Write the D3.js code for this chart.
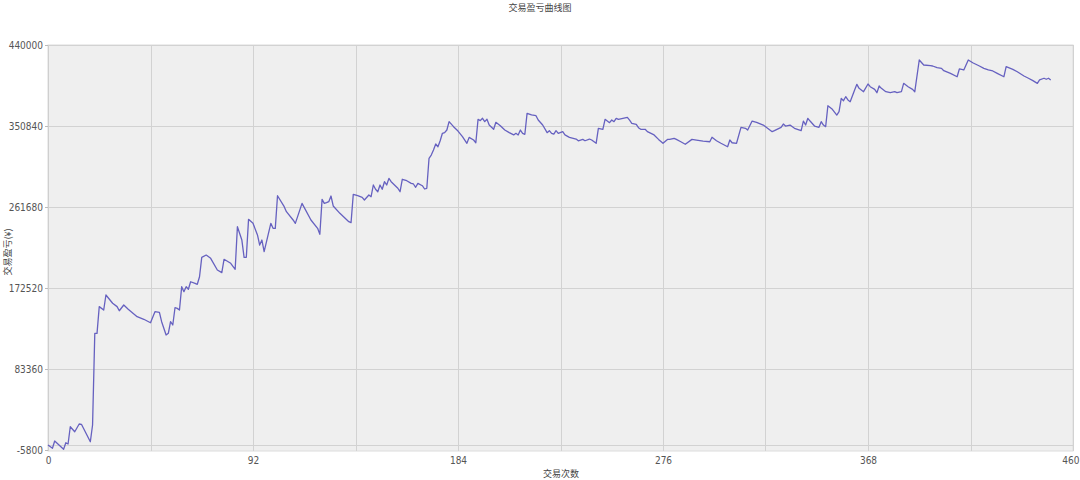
<!DOCTYPE html>
<html>
<head>
<meta charset="utf-8">
<script src="https://cdn.jsdelivr.net/npm/d3@7"></script>
<style>
  html, body { margin: 0; padding: 0; background: #ffffff; }
  svg { display: block; }
  .tick-label { font-family: "Liberation Sans Narrow", "DejaVu Sans Condensed", "Liberation Sans", sans-serif; font-size: 10px; fill: #555; }
  .cjk { font-family: "Noto Sans CJK SC", sans-serif; font-size: 9px; fill: #444; }
</style>
</head>
<body>
<svg id="chart" width="1080" height="480"></svg>
<script>
// ---- data ----
const title = "交易盈亏曲线图";
const xTitle = "交易次数";
const yTitle = "交易盈亏(¥)";
const xTicks = [0, 92, 184, 276, 368, 460];
const xGrid = [0, 46, 92, 138, 184, 230, 276, 322, 368, 414, 460];
const yTicks = [-5800, 83360, 172520, 261680, 350840, 440000];
const yGrid = [0, 83360, 172520, 261680, 350840, 440000];
const trades = [0,2,3,7,8,9,10,12,14,15,19,20,21,22,23,25,26,29,31,32,34,36,40,43,46,48,50,51,53,54,55,56,57,58,59,60,61,62,63,64,66,67,68,69,71,73,76,78,79,82,84,85,87,88,89,90,92,94,95,96,97,100,101,102,103,106,107,110,111,114,118,121,122,123,124,125,126,127,128,131,135,136,137,139,141,142,144,145,146,147,148,149,150,151,152,153,154,157,158,159,161,163,164,165,166,168,169,170,171,172,173,174,175,176,177,178,179,180,182,184,186,188,189,191,192,193,194,195,196,197,198,200,201,203,205,207,209,210,211,212,213,214,215,217,219,220,222,224,225,226,227,228,229,231,232,234,237,238,240,241,243,244,246,247,249,250,252,253,254,255,256,258,260,261,262,264,265,266,268,269,272,274,276,278,279,281,282,284,286,289,291,294,297,298,300,302,305,306,307,309,311,313,314,316,318,321,325,326,329,330,331,333,335,338,339,340,341,342,344,346,347,348,349,350,352,354,355,356,357,358,359,360,362,363,364,366,368,369,371,372,373,374,376,378,380,381,383,384,386,388,389,391,393,396,397,399,401,402,405,408,409,411,413,415,418,420,422,424,426,429,430,433,435,438,440,442,444,445,447,448,449,450];
const profit = [-300,-3900,4100,-5000,2200,800,19800,14300,22800,22500,3300,21700,122600,122600,152000,148300,164800,155700,152000,147500,153800,149100,140900,138100,134300,146500,145800,135400,120800,122600,135400,131800,150800,150100,148300,174000,168500,174000,171100,179400,177700,176600,184900,206300,208800,205200,192300,189400,204100,199700,193100,240000,225300,206300,206300,248100,243700,230900,219800,225300,212500,243700,238200,238200,274100,262000,256500,247400,243700,265700,247400,238200,231600,270100,265700,266400,267500,273800,262800,254700,245500,244400,275600,274100,272300,269400,274900,273000,285900,281200,278500,285900,281200,289500,285900,293200,289500,282300,278500,292200,290600,287700,287000,283400,287700,285100,281500,282300,315300,318900,324400,331000,328000,334600,342800,343500,346400,355600,350100,345300,339100,331800,338300,335400,332400,358200,356700,359300,355600,358200,351900,347200,354900,351200,346400,343500,341000,342800,341000,346400,342800,341700,364800,363000,362200,357400,351900,343500,345700,342800,342000,345700,342800,344600,341000,338400,336500,334600,336100,334600,336500,335400,331800,348300,347200,358200,354500,357400,355600,359300,358200,359300,360400,357400,353800,352700,349000,347200,347200,344600,341000,336100,331800,336100,336100,337200,336100,333500,330700,336100,335400,334300,333500,338400,334600,331800,328000,335400,332400,331800,349400,348300,346400,356300,354900,351900,344600,345700,349400,353000,350800,351900,348300,345700,356300,351900,359300,356300,350800,349400,355600,351900,350100,373100,369200,362900,366600,381300,378700,383100,379500,377600,390500,396700,392300,388600,397100,394100,391200,387500,394900,392300,388600,387500,388600,387500,388600,397800,394100,391200,388600,423500,418000,417200,416900,415000,414300,411700,408800,405100,413600,412500,423500,420500,416900,414300,412500,411400,408800,405100,416100,413200,410600,405900,403400,400800,397800,401500,403400,402300,403400,401500];

// ---- chart ----
const svg = d3.select("#chart");
const pL = 48, pR = 1073, pT = 45, pB = 450;
const x = d3.scaleLinear().domain([0, 460]).range([pL, pR]);
const y = d3.scaleLinear().domain([-5800, 440000]).range([pB, pT]);

// plot background
svg.append("rect")
  .attr("x", pL).attr("y", pT)
  .attr("width", pR - pL).attr("height", pB - pT + 1)
  .attr("fill", "#efefef").attr("stroke", "#dcdcdc").attr("stroke-width", 1);

// grid
svg.append("g").selectAll("line").data(xGrid).join("line")
  .attr("x1", d => Math.round(x(d)) + 0.5).attr("x2", d => Math.round(x(d)) + 0.5)
  .attr("y1", pT).attr("y2", pB + 1)
  .attr("stroke", "#d2d2d2").attr("stroke-width", 1);
svg.append("g").selectAll("line").data(yGrid).join("line")
  .attr("x1", pL).attr("x2", pR)
  .attr("y1", d => Math.round(y(d)) + 0.5).attr("y2", d => Math.round(y(d)) + 0.5)
  .attr("stroke", "#d2d2d2").attr("stroke-width", 1);

// axes
const yAxis = d3.axisLeft(y).tickValues(yTicks).tickSize(3).tickPadding(2).tickFormat(d => String(d));
const gy = svg.append("g").attr("transform", `translate(${pL},0)`).call(yAxis);
gy.select(".domain").attr("stroke", "#cfcfcf");
gy.selectAll(".tick line").attr("stroke", "#bbb");
gy.selectAll("text").attr("class", "tick-label").attr("fill", "#555");

const xAxis = d3.axisBottom(x).tickValues(xTicks).tickSize(0).tickPadding(6).tickFormat(d => String(d));
const gx = svg.append("g").attr("transform", `translate(0,${pB + 1})`).call(xAxis);
gx.select(".domain").remove();
gx.selectAll("text").attr("class", "tick-label").attr("fill", "#555")
  .filter(d => d === 460).attr("text-anchor", "end").attr("dx", "6");

// line
const n = Math.min(trades.length, profit.length);
const pts = trades.slice(0, n).map((t, i) => [t, profit[i]]);
svg.append("path")
  .datum(pts)
  .attr("fill", "none")
  .attr("stroke", "#6661c0")
  .attr("stroke-width", 1.3)
  .attr("stroke-linejoin", "round")
  .attr("d", d3.line().x(d => x(d[0])).y(d => y(d[1])));

// titles
svg.append("text").attr("class", "cjk").attr("x", 540).attr("y", 11)
  .attr("text-anchor", "middle").text(title);
svg.append("text").attr("class", "cjk").attr("x", 561).attr("y", 477)
  .attr("text-anchor", "middle").text(xTitle);
svg.append("text").attr("class", "cjk")
  .attr("transform", "translate(11,252) rotate(-90)")
  .attr("text-anchor", "middle").text(yTitle);
</script>
</body>
</html>
